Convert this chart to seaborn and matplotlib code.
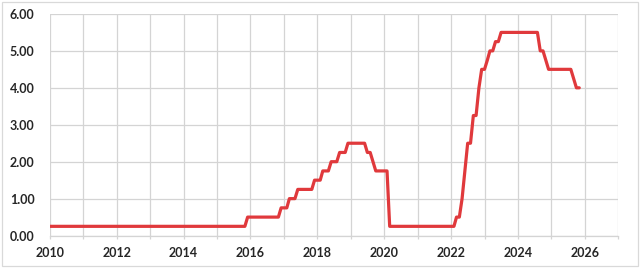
import matplotlib
matplotlib.use("Agg")
import matplotlib.pyplot as plt
import matplotlib.dates as mdates
from matplotlib.patches import Rectangle
import seaborn as sns
import pandas as pd

# Monthly (end-of-month) federal funds target, upper bound, Jan 2010 - Nov 2025
rates_2010 = [0.25] * 12
rates_2011 = [0.25] * 12
rates_2012 = [0.25] * 12
rates_2013 = [0.25] * 12
rates_2014 = [0.25] * 12
rates_2015 = [0.25] * 11 + [0.50]
rates_2016 = [0.50] * 11 + [0.75]
rates_2017 = [0.75, 0.75, 1.00, 1.00, 1.00, 1.25, 1.25, 1.25, 1.25, 1.25, 1.25, 1.50]
rates_2018 = [1.50, 1.50, 1.75, 1.75, 1.75, 2.00, 2.00, 2.00, 2.25, 2.25, 2.25, 2.50]
rates_2019 = [2.50, 2.50, 2.50, 2.50, 2.50, 2.50, 2.25, 2.25, 2.00, 1.75, 1.75, 1.75]
rates_2020 = [1.75, 1.75] + [0.25] * 10
rates_2021 = [0.25] * 12
rates_2022 = [0.25, 0.25, 0.50, 0.50, 1.00, 1.75, 2.50, 2.50, 3.25, 3.25, 4.00, 4.50]
rates_2023 = [4.50, 4.75, 5.00, 5.00, 5.25, 5.25, 5.50, 5.50, 5.50, 5.50, 5.50, 5.50]
rates_2024 = [5.50] * 8 + [5.00, 5.00, 4.75, 4.50]
rates_2025 = [4.50] * 8 + [4.25, 4.00, 4.00]

rates = (rates_2010 + rates_2011 + rates_2012 + rates_2013 + rates_2014 + rates_2015
         + rates_2016 + rates_2017 + rates_2018 + rates_2019 + rates_2020 + rates_2021
         + rates_2022 + rates_2023 + rates_2024 + rates_2025)
months = pd.date_range("2010-01-01", periods=len(rates), freq="MS")

y_ticks = [0, 1, 2, 3, 4, 5, 6]
df = pd.DataFrame({"month": months, "rate": rates})

sns.set_theme(style="white")
plt.rcParams["font.family"] = ["Lato", "DejaVu Sans"]

fig = plt.figure(figsize=(6.4, 2.68), dpi=100)
ax = fig.add_axes([0.078, 0.121, 0.888, 0.827])

sns.lineplot(data=df, x="month", y="rate", ax=ax, color="#E0393C", linewidth=2.3)

ax.set_xlim(pd.Timestamp("2010-01-01"), pd.Timestamp("2027-01-01"))
ax.set_ylim(0, 6)
ax.set_yticks(y_ticks)
ax.set_yticklabels([f"{v:.2f}" for v in y_ticks])

ax.xaxis.set_major_locator(mdates.YearLocator(2))
ax.xaxis.set_major_formatter(mdates.DateFormatter("%Y"))
ax.xaxis.set_minor_locator(mdates.YearLocator(1))

ax.grid(True, which="both", axis="x", color="#D4D4D4", linewidth=0.9)
ax.grid(True, which="major", axis="y", color="#D4D4D4", linewidth=0.9)
for s in ax.spines.values():
    s.set_visible(False)
ax.spines["bottom"].set_visible(True)
ax.spines["bottom"].set_color("#D4D4D4")
ax.spines["bottom"].set_linewidth(0.9)

ax.tick_params(axis="x", which="both", length=2.5, width=0.9, color="#D4D4D4", pad=6,
               bottom=True)
ax.tick_params(axis="y", length=0, pad=11)
for lab in ax.get_xticklabels() + ax.get_yticklabels():
    lab.set_fontweight("bold")
    lab.set_fontsize(9)
    lab.set_color("#262626")

ax.set_xlabel("")
ax.set_ylabel("")

fig.patches.append(Rectangle((0.003, 0.006), 0.994, 0.988, transform=fig.transFigure,
                             fill=False, edgecolor="#D9D9D9", linewidth=0.9))

fig.savefig("out.png", dpi=100)
